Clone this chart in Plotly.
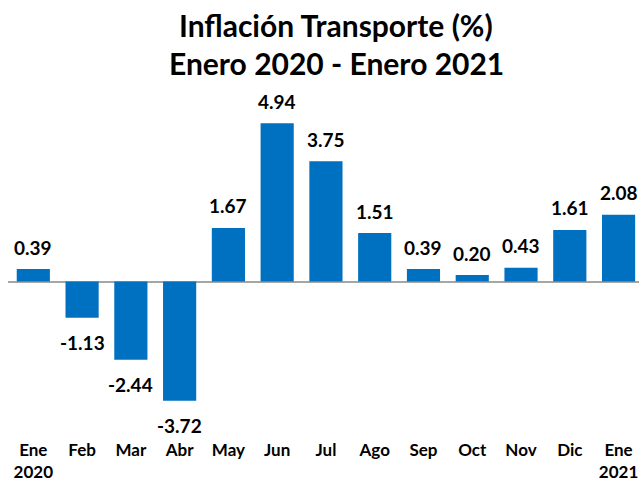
import plotly.graph_objects as go

# Datos
meses = ['Ene<br>2020', 'Feb', 'Mar', 'Abr', 'May', 'Jun', 'Jul', 'Ago',
         'Sep', 'Oct', 'Nov', 'Dic', 'Ene<br>2021']
inflacion = [0.39, -1.13, -2.44, -3.72, 1.67, 4.94, 3.75, 1.51,
             0.39, 0.20, 0.43, 1.61, 2.08]
etiquetas = ['%.2f' % v for v in inflacion]
titulo = ['Inflación Transporte (%)', 'Enero 2020 - Enero 2021']

fuente = 'Lato, Open Sans, sans-serif'
azul = '#0070C0'

x_idx = list(range(len(meses)))

fig = go.Figure()
fig.add_trace(go.Bar(
    x=x_idx,
    y=inflacion,
    width=0.68,
    marker=dict(color=azul, line=dict(width=0)),
    hoverinfo='x+y'
))

# Etiquetas de valores (encima de positivos, debajo de negativos)
for i, v in enumerate(inflacion):
    fig.add_annotation(
        x=i, y=v, text='<b>%s</b>' % etiquetas[i], showarrow=False,
        yshift=22 if v >= 0 else -25,
        font=dict(family=fuente, size=19, color='black')
    )

# Titulo en dos lineas
for k, linea in enumerate(titulo):
    fig.add_annotation(
        xref='paper', yref='paper', x=0.52, y=[1.187, 1.078][k],
        xanchor='center', yanchor='middle', showarrow=False,
        text='<b>%s</b>' % linea,
        font=dict(family=fuente, size=30, color='black')
    )

fig.update_layout(
    width=639, height=483,
    paper_bgcolor='white', plot_bgcolor='white',
    margin=dict(l=8, r=0, t=90, b=45),
    showlegend=False,
    xaxis=dict(
        tickmode='array', tickvals=x_idx,
        ticktext=['<b>%s</b>' % m for m in meses],
        range=[-0.519, 12.419], automargin=False,
        showgrid=False, zeroline=False, showline=False, ticks='',
        tickfont=dict(family=fuente, size=17, color='black')
    ),
    yaxis=dict(
        range=[-4.883, 5.975], automargin=False,
        showgrid=False, showticklabels=False, ticks='',
        zeroline=True, zerolinecolor='#A6A6A6', zerolinewidth=2
    )
)

# Quitar el margen por defecto del body para que la figura ocupe la ventana
fig.write_html('out.html', config={'displayModeBar': False},
               post_script="document.body.style.margin='0px';")
